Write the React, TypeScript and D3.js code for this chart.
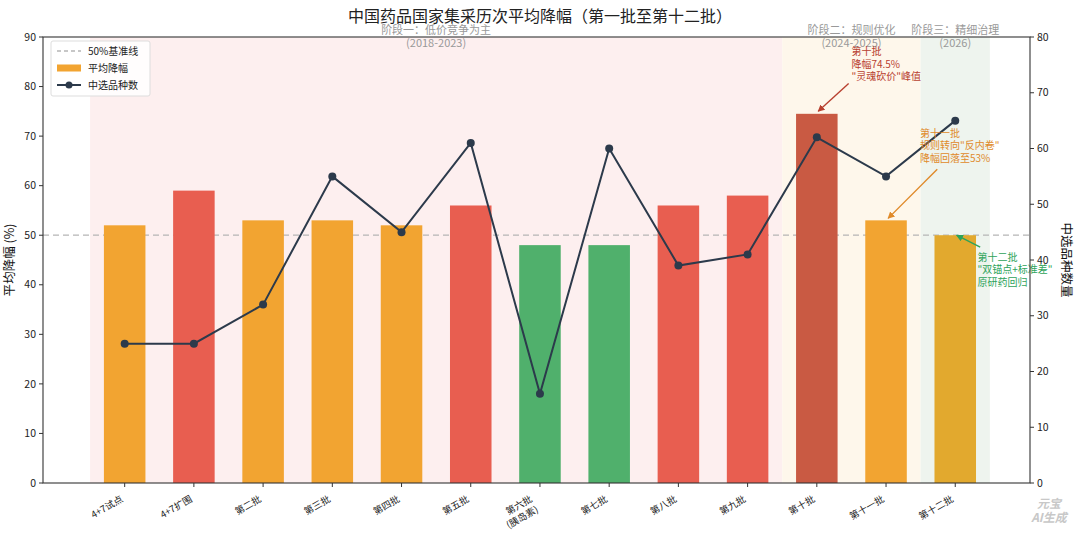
import * as d3 from 'd3'

const W = 1080
const H = 537
const MARGIN = { top: 37, right: 50, bottom: 54, left: 43 }
const FONT = '"Noto Sans CJK SC", "Noto Sans", sans-serif'

// data
const batches = ['4+7试点', '4+7扩围', '第二批', '第三批', '第四批', '第五批', '第六批\n(胰岛素)', '第七批', '第八批', '第九批', '第十批', '第十一批', '第十二批']
const avgCut = [52, 59, 53, 53, 52, 56, 48, 48, 56, 58, 74.5, 53, 50]
const varieties = [25, 25, 32, 55, 45, 61, 16, 60, 39, 41, 62, 55, 65]
const barColors = ['#F2A431', '#E85E50', '#F2A431', '#F2A431', '#F2A431', '#E85E50', '#50B06C', '#50B06C', '#E85E50', '#E85E50', '#C95A43', '#F2A431', '#E2A92E']
const leftTicks = [0, 10, 20, 30, 40, 50, 60, 70, 80, 90]
const rightTicks = [0, 10, 20, 30, 40, 50, 60, 70, 80]

const phases = [
  { from: -0.5, to: 9.5, fill: '#FDEFEF', label: '阶段一：低价竞争为主', years: '(2018-2023)' },
  { from: 9.5, to: 11.5, fill: '#FEF7EB', label: '阶段二：规则优化', years: '(2024-2025)' },
  { from: 11.5, to: 12.5, fill: '#EEF4EE', label: '阶段三：精细治理', years: '(2026)' },
]

const notes = [
  { lines: ['第十批', '降幅74.5%', '"灵魂砍价"峰值'], color: '#B8402F', tx: 10.5, ty: 88.3, ax: 10.46, ay: 80.6, px: 10.02, py: 75 },
  { lines: ['第十一批', '规则转向"反内卷"', '降幅回落至53%'], color: '#E08A2A', tx: 11.49, ty: 71.8, ax: 11.74, ay: 63.3, px: 11.03, py: 53.4 },
  { lines: ['第十二批', '"双锚点+标准差"', '原研药回归'], color: '#2EA35A', tx: 12.32, ty: 46.8, ax: 12.36, ay: 47.6, px: 12.02, py: 50 },
]

export default function App() {
  const innerW = W - MARGIN.left - MARGIN.right
  const innerH = H - MARGIN.top - MARGIN.bottom
  const x = d3.scaleLinear().domain([-1.18, 13.08]).range([0, innerW])
  const y = d3.scaleLinear().domain([0, 90]).range([innerH, 0])
  const y2 = d3.scaleLinear().domain([0, 80]).range([innerH, 0])
  const barW = x(0.6) - x(0)

  const line = d3.line<number>().x((_, i) => x(i)).y((d) => y2(d))

  return (
    <svg width={W} height={H} style={{ position: 'absolute', left: 0, top: 0, background: '#fff' }} fontFamily={FONT}>
      <defs>
        {notes.map((n, i) => (
          <marker key={i} id={`arr${i}`} viewBox="0 0 10 10" refX="9" refY="5" markerWidth="7" markerHeight="7" orient="auto-start-reverse" markerUnits="userSpaceOnUse">
            <path d="M0,0 L10,5 L0,10 z" fill={n.color} />
          </marker>
        ))}
      </defs>
      <text x={W / 2} y={22} textAnchor="middle" fontSize={16} fill="#222">中国药品国家集采历次平均降幅（第一批至第十二批）</text>

      <g transform={`translate(${MARGIN.left},${MARGIN.top})`}>
        {/* phase backgrounds */}
        {phases.map((p, i) => (
          <rect key={i} x={x(p.from)} y={0} width={x(p.to) - x(p.from)} height={innerH} fill={p.fill} />
        ))}

        {/* 50% baseline */}
        <line x1={0} x2={innerW} y1={y(50)} y2={y(50)} stroke="#B5B5B5" strokeWidth={1.3} strokeDasharray="6,4" />

        {/* bars */}
        {avgCut.map((v, i) => (
          <rect key={i} x={x(i) - barW / 2} y={y(v)} width={barW} height={innerH - y(v)} fill={barColors[i]} />
        ))}

        {/* varieties line */}
        <path d={line(varieties) ?? ''} fill="none" stroke="#2C3A4B" strokeWidth={2} />
        {varieties.map((v, i) => (
          <circle key={i} cx={x(i)} cy={y2(v)} r={4} fill="#2C3A4B" />
        ))}

        {/* phase labels */}
        {phases.map((p, i) => (
          <text key={i} x={x((p.from + p.to) / 2)} textAnchor="middle" fontSize={11} fill="#999">
            <tspan x={x((p.from + p.to) / 2)} y={-3}>{p.label}</tspan>
            <tspan x={x((p.from + p.to) / 2)} y={10}>{p.years}</tspan>
          </text>
        ))}

        {/* annotations */}
        {notes.map((n, i) => (
          <g key={i}>
            <line x1={x(n.ax)} y1={y(n.ay)} x2={x(n.px)} y2={y(n.py)} stroke={n.color} strokeWidth={1.4} markerEnd={`url(#arr${i})`} />
            <text fontSize={10} fill={n.color}>
              {n.lines.map((l, j) => (
                <tspan key={j} x={x(n.tx)} y={y(n.ty) + 10 + j * 12.3}>{l}</tspan>
              ))}
            </text>
          </g>
        ))}

        {/* frame */}
        <rect x={0} y={0} width={innerW} height={innerH} fill="none" stroke="#333" strokeWidth={1.1} />

        {/* left axis */}
        {leftTicks.map((t) => (
          <g key={t} transform={`translate(0,${y(t)})`}>
            <line x1={-4} x2={0} stroke="#333" />
            <text x={-7} dy="0.35em" textAnchor="end" fontSize={10.5} fill="#222">{t}</text>
          </g>
        ))}
        <text transform={`translate(${-29},${innerH / 2}) rotate(-90)`} textAnchor="middle" fontSize={12.5} fill="#111">平均降幅 (%)</text>

        {/* right axis */}
        {rightTicks.map((t) => (
          <g key={t} transform={`translate(${innerW},${y2(t)})`}>
            <line x1={0} x2={4} stroke="#333" />
            <text x={7} dy="0.35em" textAnchor="start" fontSize={10.5} fill="#222">{t}</text>
          </g>
        ))}
        <text transform={`translate(${innerW + 32},${innerH / 2}) rotate(90)`} textAnchor="middle" fontSize={12.5} fill="#111">中选品种数量</text>

        {/* bottom axis */}
        {batches.map((b, i) => {
          const lines = b.split('\n')
          return (
            <g key={i}>
              <line x1={x(i)} x2={x(i)} y1={innerH} y2={innerH + 4} stroke="#333" />
              <g transform={`translate(${x(i) - 1 - (lines.length - 1) * 6},${innerH + 18}) rotate(-30)`}>
                <text textAnchor="end" fontSize={9.5} fill="#222">
                  {lines.map((l, j) => (
                    <tspan key={j} x={0} y={j * 12}>{l}</tspan>
                  ))}
                </text>
              </g>
            </g>
          )
        })}

        {/* legend */}
        <g transform="translate(8,4)">
          <rect x={0} y={0} width={99} height={55} rx={2} fill="#fff" fillOpacity={0.85} stroke="#ddd" />
          <line x1={6} x2={30} y1={10} y2={10} stroke="#B5B5B5" strokeWidth={1.3} strokeDasharray="4,3" />
          <text x={37} y={10} dy="0.35em" fontSize={10} fill="#222">50%基准线</text>
          <rect x={6} y={23.5} width={24} height={7} fill="#F2A431" />
          <text x={37} y={27} dy="0.35em" fontSize={10} fill="#222">平均降幅</text>
          <line x1={6} x2={30} y1={44} y2={44} stroke="#2C3A4B" strokeWidth={2} />
          <circle cx={18} cy={44} r={3.5} fill="#2C3A4B" />
          <text x={37} y={44} dy="0.35em" fontSize={10} fill="#222">中选品种数</text>
        </g>
      </g>

      {/* watermark */}
      <text fontSize={12} fontWeight="bold" fontStyle="italic" fill="#C8C8C8" textAnchor="middle">
        <tspan x={1049} y={508}>元宝</tspan>
        <tspan x={1049} y={522}>AI生成</tspan>
      </text>
    </svg>
  )
}
